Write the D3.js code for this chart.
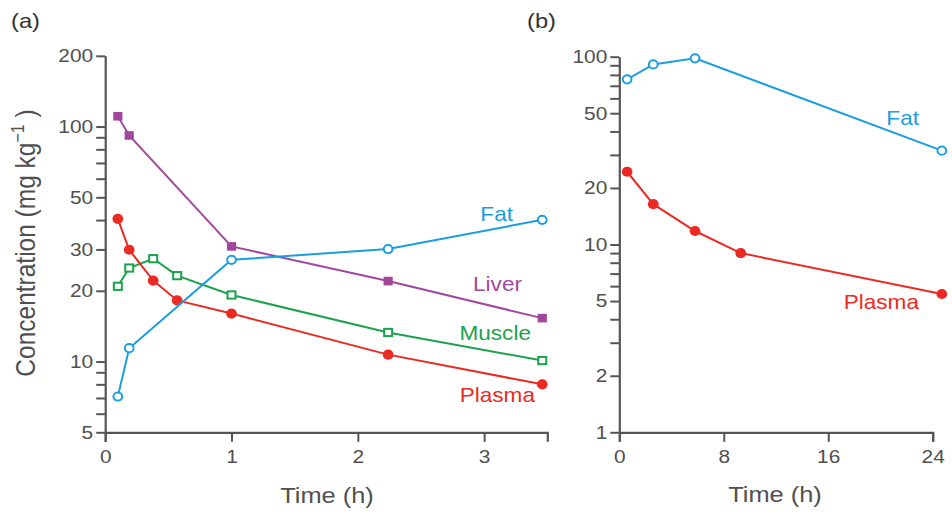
<!DOCTYPE html>
<html><head><meta charset="utf-8">
<script src="https://cdn.jsdelivr.net/npm/d3@7"></script>
<style>
body{margin:0;background:#fff;}
svg text{font-family:"Liberation Sans",Arial,sans-serif;}
</style></head>
<body><svg id="c" width="952" height="512"></svg>
<script>
// ---- Data ----
// Panel (a)
const aFatT = [0.1, 0.19, 1.0, 2.24, 3.46];
const aFatV = [7.1, 11.4, 27.1, 30.1, 40.1];
const aLiverT = [0.1, 0.19, 1.0, 2.24, 3.46];
const aLiverV = [110.6, 91.6, 30.9, 22.0, 15.3];
const aMuscleT = [0.1, 0.19, 0.38, 0.57, 1.0, 2.24, 3.46];
const aMuscleV = [20.9, 25.0, 27.4, 23.2, 19.2, 13.3, 10.1];
const aPlasmaT = [0.1, 0.19, 0.38, 0.57, 1.0, 2.24, 3.46];
const aPlasmaV = [40.5, 29.9, 22.1, 18.2, 16.0, 10.7, 8.0];
// Panel (b)
const bFatT = [0.6, 2.6, 5.8, 24.7];
const bFatV = [75.8, 91, 98, 31.6];
const bPlasmaT = [0.6, 2.6, 5.8, 9.3, 24.7];
const bPlasmaV = [24.4, 16.4, 11.8, 9.0, 5.45];
// Ticks
const aXTicks = [0, 1, 2, 3];
const aYTicks = [5, 6, 7, 8, 9, 10, 20, 30, 40, 50, 60, 70, 80, 90, 100, 200];
const aYLabels = [5, 10, 20, 30, 50, 100, 200];
const bXTicks = [0, 8, 16, 24];
const bYTicks = [1, 2, 3, 4, 5, 6, 7, 8, 9, 10, 20, 30, 40, 50, 60, 70, 80, 90, 100];
const bYLabels = [1, 2, 5, 10, 20, 50, 100];

const C = {fat:"#1c9de0", liver:"#a2489c", muscle:"#1ba24c", plasma:"#ec2a24"};
const axisCol = "#555", textCol = "#505050";
const SX = 1.13; // horizontal glyph stretch seen in the reference

const svg = d3.select("#c");

function stretchText(sel){
  sel.each(function(){
    const t = d3.select(this);
    const x = +t.attr("x") || 0;
    t.attr("x", 0).attr("transform", `translate(${x},0) scale(${SX},1)`);
  });
}

function axes(g, x, y, xticks, yticks, ylabels){
  const xa = g.append("g").attr("transform",`translate(0,${y.range()[0]})`)
    .call(d3.axisBottom(x).tickValues(xticks).tickSize(9.5).tickSizeOuter(9.5).tickPadding(8.5).tickFormat(d3.format("d")));
  const ya = g.append("g").attr("transform",`translate(${x.range()[0]},0)`)
    .call(d3.axisLeft(y).tickValues(yticks).tickSize(9).tickSizeOuter(0).tickPadding(3)
      .tickFormat(d => ylabels.includes(d) ? d : ""));
  [xa, ya].forEach(a=>{
    a.selectAll("path.domain").attr("stroke",axisCol).attr("stroke-width",2.2);
    a.selectAll(".tick line").attr("stroke",axisCol).attr("stroke-width",2);
    a.selectAll(".tick text").attr("fill",textCol).style("font-size","18.5px").call(stretchText);
  });
}

function series(g, x, y, ts, vs, color, marker){
  const pts = ts.map((t,i)=>[t, vs[i]]);
  g.append("path").datum(pts)
    .attr("fill","none").attr("stroke",color).attr("stroke-width",2)
    .attr("d", d3.line().x(d=>x(d[0])).y(d=>y(d[1])));
  const m = g.append("g");
  pts.forEach(d=>{
    const cx = x(d[0]), cy = y(d[1]);
    if (marker==="openCircle") m.append("ellipse").attr("cx",cx).attr("cy",cy).attr("rx",4.4).attr("ry",4.1)
      .attr("fill","#fff").attr("stroke",color).attr("stroke-width",2);
    else if (marker==="dot") m.append("ellipse").attr("cx",cx).attr("cy",cy).attr("rx",5.4).attr("ry",5.1).attr("fill",color);
    else if (marker==="square") m.append("rect").attr("x",cx-4.6).attr("y",cy-4.3).attr("width",9.2).attr("height",8.6).attr("fill",color);
    else if (marker==="openSquare") m.append("rect").attr("x",cx-4).attr("y",cy-3.6).attr("width",8).attr("height",7.2)
      .attr("fill","#fff").attr("stroke",color).attr("stroke-width",2);
  });
}

function text(g, x, y, str, color, size, anchor){
  return g.append("text").attr("transform",`translate(${x},${y}) scale(${SX},1)`)
    .attr("text-anchor",anchor).attr("fill",color).style("font-size",size+"px").text(str);
}

// Panel (a)
const ax = d3.scaleLinear().domain([0,3.5]).range([105.2,547.3]);
const ay = d3.scaleLog().domain([5,200]).range([432.3,55.8]);
const ga = svg.append("g");
axes(ga, ax, ay, aXTicks, aYTicks, aYLabels);
series(ga, ax, ay, aLiverT, aLiverV, C.liver, "square");
series(ga, ax, ay, aMuscleT, aMuscleV, C.muscle, "openSquare");
series(ga, ax, ay, aPlasmaT, aPlasmaV, C.plasma, "dot");
series(ga, ax, ay, aFatT, aFatV, C.fat, "openCircle");
text(ga, 513, 220.5, "Fat", C.fat, 20, "end");
text(ga, 522, 291, "Liver", C.liver, 20, "end");
text(ga, 531, 340, "Muscle", C.muscle, 20, "end");
text(ga, 535, 401.5, "Plasma", C.plasma, 20, "end");
text(ga, 327, 503, "Time (h)", textCol, 22.5, "middle");
const yt = ga.append("text").attr("transform",`translate(35,243) scale(${SX},1) rotate(-90)`).attr("text-anchor","middle")
  .attr("fill",textCol).style("font-size","24.5px");
yt.append("tspan").text("Concentration (mg kg");
yt.append("tspan").attr("dy",-10).style("font-size","16px").text("−1");
yt.append("tspan").attr("dy",10).text(" )");
text(svg, 11, 28, "(a)", "#333", 21, "start");

// Panel (b)
const bx = d3.scaleLinear().domain([0,24]).range([619.3,932.7]);
const by = d3.scaleLog().domain([1,100]).range([432.3,56.7]);
const gb = svg.append("g");
axes(gb, bx, by, bXTicks, bYTicks, bYLabels);
series(gb, bx, by, bFatT, bFatV, C.fat, "openCircle");
series(gb, bx, by, bPlasmaT, bPlasmaV, C.plasma, "dot");
text(gb, 919, 125, "Fat", C.fat, 20, "end");
text(gb, 919, 309, "Plasma", C.plasma, 20, "end");
text(gb, 775, 502, "Time (h)", textCol, 22.5, "middle");
text(svg, 527, 28, "(b)", "#333", 21, "start");
</script></body></html>
